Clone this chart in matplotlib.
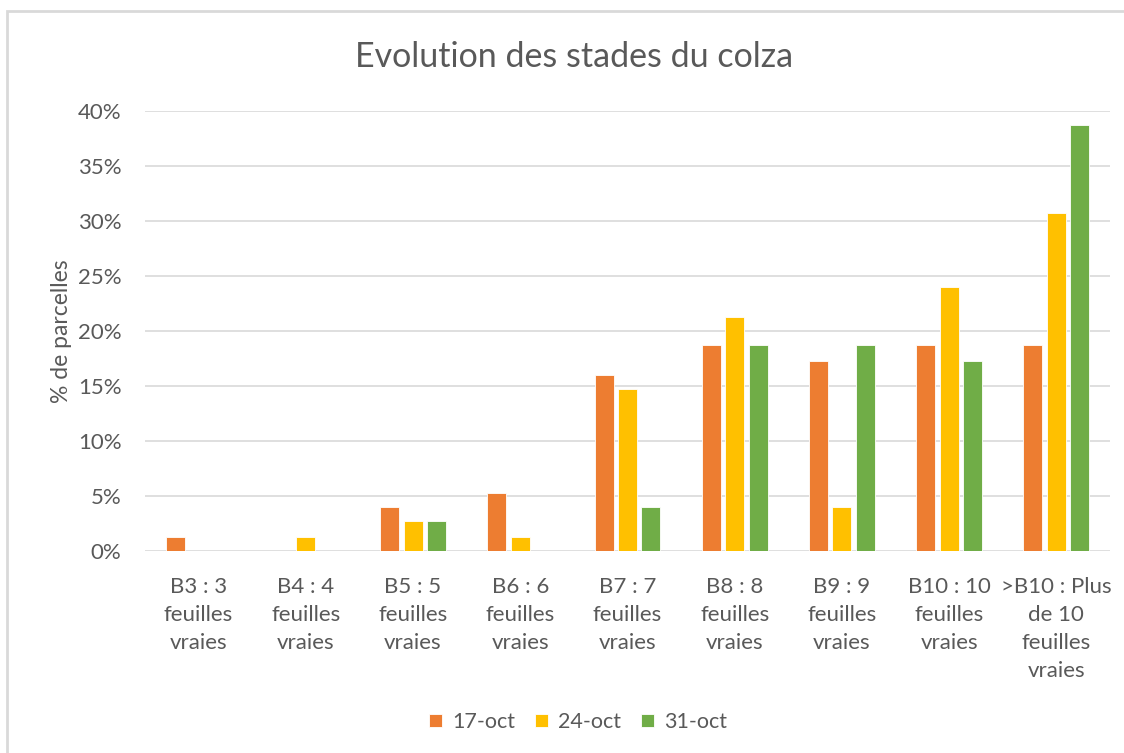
import numpy as np
import matplotlib.pyplot as plt
from matplotlib.patches import Rectangle
from matplotlib.ticker import PercentFormatter

# stades du colza (pourcentage de parcelles)
categories = ['B3 : 3\nfeuilles\nvraies', 'B4 : 4\nfeuilles\nvraies',
              'B5 : 5\nfeuilles\nvraies', 'B6 : 6\nfeuilles\nvraies',
              'B7 : 7\nfeuilles\nvraies', 'B8 : 8\nfeuilles\nvraies',
              'B9 : 9\nfeuilles\nvraies', 'B10 : 10\nfeuilles\nvraies',
              '>B10 : Plus\nde 10\nfeuilles\nvraies']
series_names = ['17-oct', '24-oct', '31-oct']
oct17 = [1.3, 0, 4.0, 5.3, 16.0, 18.7, 17.3, 18.7, 18.7]
oct24 = [0, 1.3, 2.7, 1.3, 14.7, 21.3, 4.0, 24.0, 30.7]
oct31 = [0, 0, 2.7, 0, 4.0, 18.7, 18.7, 17.3, 38.7]
colors = ['#ED7D31', '#FFC000', '#70AD47']

plt.rcParams['font.family'] = ['Lato', 'DejaVu Sans']
txt = '#595959'

fig = plt.figure(figsize=(11.24, 7.53), dpi=100)
ax = fig.add_axes([145 / 1124, 1 - 551 / 753, 965 / 1124, 440 / 753])

# cadre du graphique
fig.patches.append(Rectangle((7 / 1124, -0.05), 1.1, 1 - 11 / 753 + 0.05,
                             transform=fig.transFigure, fill=False,
                             edgecolor='#D9D9D9', linewidth=2))

x = np.arange(len(categories))
offset = 0.219
width = 0.177
for i, vals in enumerate([oct17, oct24, oct31]):
    ax.bar(x + (i - 1) * offset, vals, width, color=colors[i],
           edgecolor='white', linewidth=0.6, label=series_names[i], zorder=3)

ax.set_xlim(-0.5, len(categories) - 0.5)
ax.set_ylim(0, 40)
ax.set_yticks(np.arange(0, 41, 5))
ax.yaxis.set_major_formatter(PercentFormatter(decimals=0))
ax.grid(axis='y', color='#D9D9D9', linewidth=1.2, zorder=0)
for s in ax.spines.values():
    s.set_visible(False)
ax.tick_params(length=0, colors=txt, labelsize=16)
ax.tick_params(axis='y', pad=17)
ax.tick_params(axis='x', pad=19)
ax.set_xticks(x)
ax.set_xticklabels(categories, linespacing=1.5)

ax.set_ylabel('% de parcelles', color=txt, fontsize=16.5, labelpad=4)
fig.text(574 / 1124, 1 - 57 / 753, 'Evolution des stades du colza',
         ha='center', va='center', fontsize=24.5, color=txt)

leg = fig.legend(loc='center', bbox_to_anchor=(578 / 1124, 1 - 722 / 753),
                 ncol=3, frameon=False, fontsize=15.5, handlelength=0.6,
                 handleheight=0.6, handletextpad=0.5, columnspacing=0.9)
for t in leg.get_texts():
    t.set_color(txt)

fig.savefig('out.png', dpi=100, facecolor='white')
